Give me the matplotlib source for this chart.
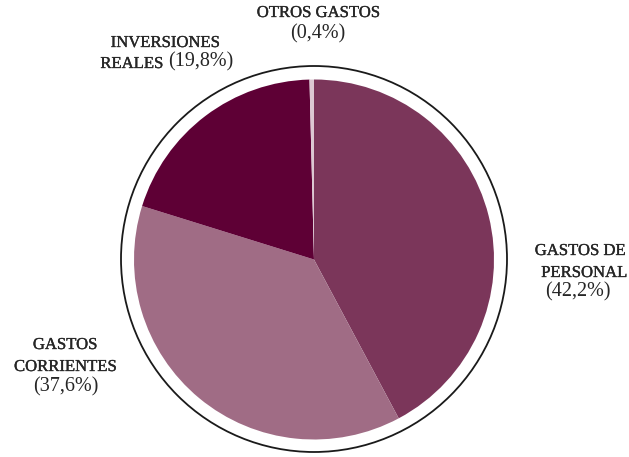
import matplotlib
matplotlib.use("Agg")
import matplotlib.pyplot as plt
from matplotlib.patches import Circle
import matplotlib.patheffects as pe

# ---- data ----
categories = ["GASTOS DE PERSONAL", "GASTOS CORRIENTES", "INVERSIONES REALES", "OTROS GASTOS"]
values = [42.2, 37.6, 19.8, 0.4]
pct_labels = ["(42,2%)", "(37,6%)", "(19,8%)", "(0,4%)"]
colors = ["#7B365A", "#A06C85", "#5E0035", "#DCC8D2"]

W, H = 629, 457
fig = plt.figure(figsize=(W / 100, H / 100), dpi=100)
ax = fig.add_axes([0, 0, 1, 1])

cx, cy = 314, H - 259.5
ax.pie(values, colors=colors, startangle=90, counterclock=False,
       radius=180, center=(cx, cy), wedgeprops=dict(linewidth=0))
ax.add_patch(Circle((314, H - 259), 193, fill=False, lw=1.3, ec="#1a1a1a"))

ax.set_xlim(0, W)
ax.set_ylim(0, H)
ax.set_aspect("equal")
ax.axis("off")

FONT = "Liberation Serif"
TC = "#262626"
SC = 12      # small-caps-like words
PC = 14.5    # percentage text
stroke = [pe.withStroke(linewidth=0.25, foreground=TC)]

def t(x, y, s, size, ha="center", bold=False):
    ax.text(x, H - y, s, fontsize=size, family=FONT, color=TC, ha=ha, va="center",
            path_effects=stroke if bold else None)

# gastos de personal
t(580, 251, "GASTOS DE", SC, bold=True)
t(584, 273, "PERSONAL", SC, bold=True)
t(578, 292, pct_labels[0], PC)
# gastos corrientes
t(65, 345, "GASTOS", SC, bold=True)
t(65, 367, "CORRIENTES", SC, bold=True)
t(66, 387, pct_labels[1], PC)
# inversiones reales
t(165, 43, "INVERSIONES", SC, bold=True)
t(163, 64, "REALES", SC, ha="right", bold=True)
t(168, 62, pct_labels[2], PC, ha="left")
# otros gastos
t(318, 13, "OTROS GASTOS", SC, bold=True)
t(318, 34, pct_labels[3], PC)

fig.savefig("out.png", dpi=100, facecolor="white")
